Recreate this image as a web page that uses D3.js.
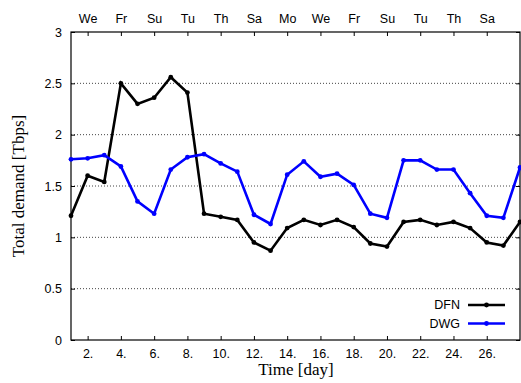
<!DOCTYPE html>
<html><head><meta charset="utf-8">
<script src="https://cdn.jsdelivr.net/npm/d3@7"></script>
<style>body{margin:0;background:#fff;} svg{display:block;}</style>
</head><body>
<script>
const days = d3.range(1, 29);
const dfn = [1.21,1.60,1.54,2.50,2.30,2.36,2.56,2.41,1.23,1.20,1.17,0.95,0.87,1.09,1.17,1.12,1.17,1.10,0.94,0.91,1.15,1.17,1.12,1.15,1.09,0.95,0.92,1.15];
const dwg = [1.76,1.77,1.80,1.69,1.35,1.23,1.66,1.78,1.81,1.72,1.64,1.22,1.13,1.61,1.74,1.59,1.62,1.51,1.23,1.19,1.75,1.75,1.66,1.66,1.43,1.21,1.19,1.68];
const bottomTicks = [2,4,6,8,10,12,14,16,18,20,22,24,26];
const topLabels = ["We","Fr","Su","Tu","Th","Sa","Mo","We","Fr","Su","Tu","Th","Sa"];
const yTicks = [0,0.5,1,1.5,2,2.5,3];
const yTickLabels = ["0","0.5","1","1.5","2","2.5","3"];
const seriesNames = ["DFN","DWG"];
const seriesColors = ["#000000","#0000ff"];

const W = 521, H = 383;
const svg = d3.select("body").append("svg").attr("width", W).attr("height", H);
const L = 71, R = 520, T = 32, B = 340;
const x = d3.scaleLinear().domain([1, 28]).range([L, R]);
const y = d3.scaleLinear().domain([0, 3]).range([B, T]);

// grid
svg.append("g").selectAll("line").data(yTicks.filter(v => v > 0 && v < 3)).join("line")
  .attr("x1", L).attr("x2", R).attr("y1", d => y(d)).attr("y2", d => y(d))
  .attr("stroke", "#444").attr("stroke-width", 1).attr("stroke-dasharray", "1,2");

const tickFont = "Liberation Sans, Arial, sans-serif";

// bottom axis
const xb = d3.axisBottom(x).tickValues(bottomTicks).tickFormat(d => d + ".").tickSizeInner(-4).tickSizeOuter(0).tickPadding(9);
const gb = svg.append("g").attr("transform", `translate(0,${B})`).call(xb);
// top axis
const xt = d3.axisTop(x).tickValues(bottomTicks).tickFormat((d, i) => topLabels[i]).tickSizeInner(-4).tickSizeOuter(0).tickPadding(9);
const gt = svg.append("g").attr("transform", `translate(0,${T})`).call(xt);
// left axis
const yl = d3.axisLeft(y).tickValues(yTicks).tickFormat((d, i) => yTickLabels[i]).tickSizeInner(-4).tickSizeOuter(0).tickPadding(9);
const gl = svg.append("g").attr("transform", `translate(${L},0)`).call(yl);
const yr = d3.axisRight(y).tickValues(yTicks).tickFormat("").tickSizeInner(-4).tickSizeOuter(0);
const gr = svg.append("g").attr("transform", `translate(${R},0)`).call(yr);
[gb, gt, gl, gr].forEach(g => {
  g.select(".domain").remove();
  g.selectAll("text").attr("font-family", tickFont).attr("font-size", 12.5).attr("fill", "#000");
  g.selectAll("line").attr("stroke", "#000");
});

// frame
svg.append("rect").attr("x", L).attr("y", T).attr("width", R - L).attr("height", B - T)
  .attr("fill", "none").attr("stroke", "#000").attr("stroke-width", 1.2);

// lines
const seriesData = [dfn, dwg];
const line = d3.line().x((d, i) => x(days[i])).y(d => y(d));
seriesData.forEach((s, k) => {
  svg.append("path").datum(s).attr("d", line).attr("fill", "none")
    .attr("stroke", seriesColors[k]).attr("stroke-width", 2.6).attr("stroke-linejoin", "miter");
  svg.append("g").selectAll("circle").data(s).join("circle")
    .attr("cx", (d, i) => x(days[i])).attr("cy", d => y(d)).attr("r", 2.4).attr("fill", seriesColors[k]);
});

// legend
const legY = [305, 323.5];
seriesNames.forEach((n, k) => {
  svg.append("text").attr("x", 460).attr("y", legY[k]).attr("dy", "0.35em").attr("text-anchor", "end")
    .attr("font-family", tickFont).attr("font-size", 12.5).text(n);
  svg.append("line").attr("x1", 468).attr("x2", 505).attr("y1", legY[k]).attr("y2", legY[k])
    .attr("stroke", seriesColors[k]).attr("stroke-width", 2.6);
  svg.append("circle").attr("cx", 486.5).attr("cy", legY[k]).attr("r", 2.4).attr("fill", seriesColors[k]);
});

// axis titles
const serif = "Liberation Serif, Times New Roman, serif";
svg.append("text").attr("x", 296).attr("y", 375).attr("text-anchor", "middle")
  .attr("font-family", serif).attr("font-size", 17).text("Time [day]");
svg.append("text").attr("transform", `translate(24,${(T + B) / 2}) rotate(-90)`).attr("text-anchor", "middle")
  .attr("font-family", serif).attr("font-size", 17).text("Total demand [Tbps]");
</script>
</body></html>
